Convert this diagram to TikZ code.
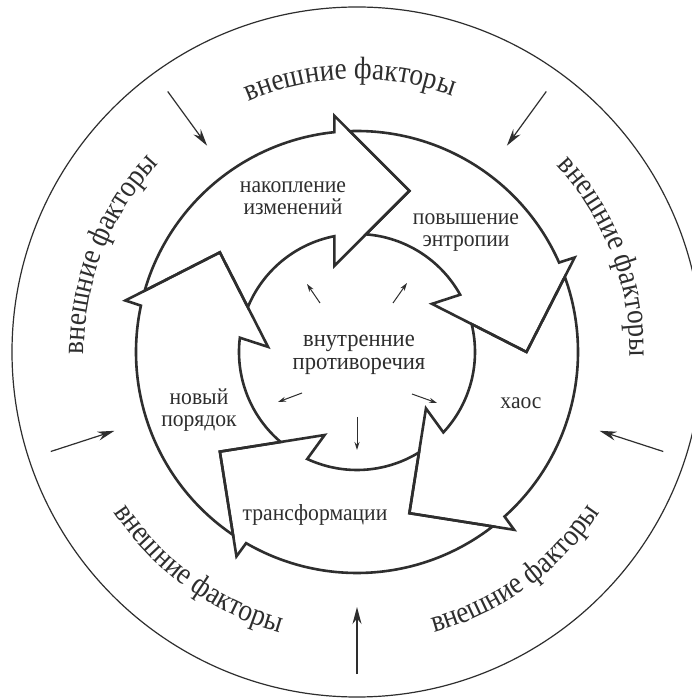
\documentclass[tikz,border=0pt]{standalone}
\usepackage{fontspec}
\setmainfont{Liberation Serif}
\newfontfamily\factorface[FakeStretch=0.88]{Liberation Serif}
\newfontfamily\stageface[FakeStretch=0.94]{Liberation Serif}
\usetikzlibrary{arrows.meta,decorations.text}
\definecolor{ink}{HTML}{2E2E2E}
\newcommand{\factorfont}{\factorface\fontsize{31}{33}\selectfont}
\tikzset{
  cycleband/.style={draw=ink, line width=2.6pt, line join=miter},
  outerring/.style={draw=ink, line width=1.2pt},
  factorarrow/.style={-{Stealth[length=17pt,width=9pt]}, draw=ink, line width=1.2pt},
  pusharrow/.style={-{Stealth[length=8pt,width=5pt]}, draw=ink, line width=1pt},
  steplabel/.style={font=\stageface\fontsize{23}{22}\selectfont, text=ink,
      align=center, inner sep=0pt},
  factorlabel/.style={decorate, decoration={text along path, text align=center,
      text color=ink, text={|\factorfont|внешние факторы}}},
}

\begin{document}
\begin{tikzpicture}[x=1pt, y=1pt]
  \path[use as bounding box, fill=white] (-357,-348) rectangle (334,352);

  % outer ring
  \draw[outerring] (0,0) circle (345);

  % cycle of five arrows, head of one is the notch of the next
  \foreach \k in {0,...,4}{
    \pgfmathsetmacro\tipang{72-72*\k}
    \pgfmathsetmacro\tailang{\tipang+72}
    \draw[cycleband] (\tailang:169.5) -- (\tailang+19.89:221)
      arc[start angle=\tailang+19.89, end angle=\tipang+23.88, radius=221]
      -- (\tipang+23.47:237.3) -- (\tipang:169.5) -- (\tipang+32.70:89.1)
      -- (\tipang+29.05:118)
      arc[start angle=\tipang+29.05, end angle=\tailang+13.70, radius=118]
      -- cycle;
  }

  % stages
  \node[steplabel] (accum) at (-64,154) {накопление\\изменений};
  \node[steplabel] (entropy) at (109,119) {повышение\\энтропии};
  \node[steplabel] (chaos) at (164,-51) {хаос};
  \node[steplabel] (transf) at (-42,-163) {трансформации};
  \node[steplabel] (neworder) at (-158,-58) {новый\\порядок};
  \node[steplabel, font=\stageface\fontsize{24}{23}\selectfont] (contra) at (2,-3)
    {внутренние\\противоречия};

  % inner pushes
  \foreach \name/\sx/\sy/\ex/\ey in {nw/-37/49/-50/68, ne/36/49/50/69,
      so/0/-65/0/-98, sw/-55/-41/-79/-50, se/55/-42/80/-51}{
    \coordinate (push\name) at (\sx,\sy);
    \coordinate (pushend\name) at (\ex,\ey);
    \draw[pusharrow] (push\name) -- (pushend\name);
  }

  % external factors
  \foreach \a in {-90,-18,54,126,198}{
    \coordinate (ext\a) at (\a:322);
    \coordinate (extend\a) at (\a:255);
    \draw[factorarrow] (ext\a) -- (extend\a);
  }
  \foreach \a in {158.5,91.5,21}
    \path[factorlabel] (\a+50:273) arc[start angle=\a+50, end angle=\a-50, radius=273];
  \foreach \a in {234,306}
    \path[factorlabel] (\a-50:291) arc[start angle=\a-50, end angle=\a+50, radius=291];
\end{tikzpicture}
\end{document}
